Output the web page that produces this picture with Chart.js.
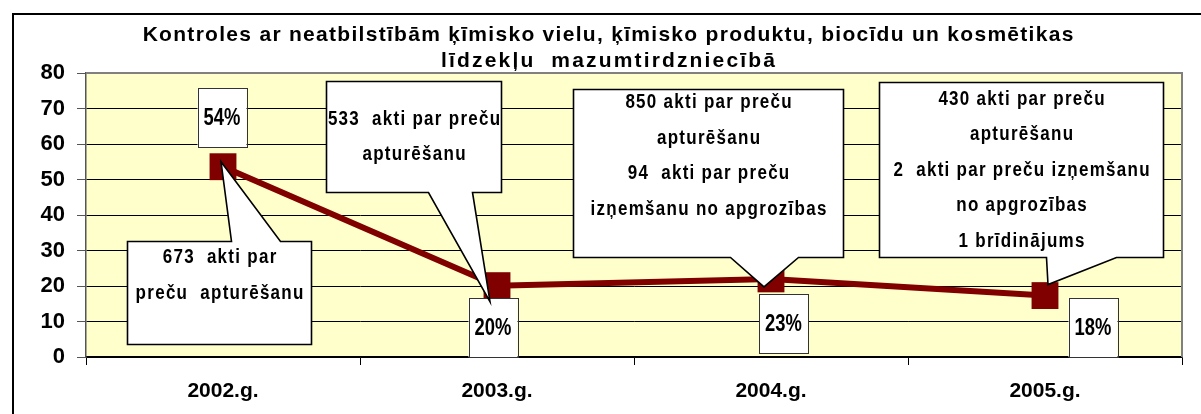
<!DOCTYPE html>
<html><head><meta charset="utf-8">
<script src="https://cdn.jsdelivr.net/npm/chart.js@4.4.1/dist/chart.umd.min.js"></script>
<style>html,body{margin:0;padding:0;background:#fff}#wrap{width:1201px;height:414px;position:relative}</style>
</head><body><div id="wrap"><canvas id="c" width="1201" height="414"></canvas></div>
<script>
// ---- data ----
const titleLines = ['Kontroles ar neatbilstībām ķīmisko vielu, ķīmisko produktu, biocīdu un kosmētikas', 'līdzekļu  mazumtirdzniecībā'];
const categories = ['2002.g.', '2003.g.', '2004.g.', '2005.g.'];
const values = [53.6, 20.1, 22.0, 17.3];
const percentLabels = ['54%', '20%', '23%', '18%'];
const yMin = 0, yMax = 80, yStep = 10;
const calloutTexts = [
  ['673  akti par', 'preču  apturēšanu', ''],
  ['533  akti par preču', 'apturēšanu'],
  ['850 akti par preču', 'apturēšanu', '94  akti par preču', 'izņemšanu no apgrozības', ''],
  ['430 akti par preču', 'apturēšanu', '2  akti par preču izņemšanu', 'no apgrozības', '1 brīdinājums']
];

// ---- layout / style (kept apart from data) ----
const FONT = "'Liberation Sans', Arial, sans-serif";
const calloutLayout = [
  {x: -96, y: 74, w: 184, h: 103, edge: 'top', b1: 104, b2: 153, tx: -2, ty: -5},
  {x: -171, y: -205, w: 175, h: 111, edge: 'bottom', b1: 102, b2: 146, tx: -7, ty: 16},
  {x: -198, y: -190, w: 270, h: 168, edge: 'bottom', b1: 157, b2: 225, tx: -7, ty: 8},
  {x: -166, y: -214, w: 284, h: 175, edge: 'bottom', b1: 167, b2: 237, tx: 3, ty: -11}
];
const pctLayout = [{dx: -1, dy: -49}, {dx: -4, dy: 42}, {dx: 12.5, dy: 44.6}, {dx: 48, dy: 32}];
const titleWidths = [932, 336];

function drawText(ctx, text, x, y, font, sx, spacing) {
  ctx.save();
  ctx.translate(x, y);
  ctx.scale(sx, 1);
  ctx.font = font;
  try { ctx.letterSpacing = spacing + 'px'; } catch (e) {}
  ctx.textAlign = 'center';
  ctx.fillText(text, spacing / 2, 0);
  ctx.restore();
}

const decor = {
  id: 'decor',
  beforeDraw(chart) {
    const ctx = chart.ctx, a = chart.chartArea;
    ctx.save();
    ctx.fillStyle = '#fff';
    ctx.fillRect(0, 0, chart.width, chart.height);
    ctx.fillStyle = '#FFFFCC';
    ctx.fillRect(a.left, a.top, a.right - a.left, a.bottom - a.top);
    // outer frame
    ctx.strokeStyle = '#000'; ctx.lineWidth = 2;
    ctx.beginPath();
    ctx.moveTo(13, chart.height + 2); ctx.lineTo(13, 14); ctx.lineTo(chart.width + 2, 14);
    ctx.stroke();
    // title, spread to the measured widths
    ctx.fillStyle = '#000';
    ctx.textBaseline = 'alphabetic';
    const tf = 'bold 21px ' + FONT;
    ctx.font = tf;
    try { ctx.letterSpacing = '0px'; } catch (e) {}
    titleLines.forEach((t, k) => {
      const w = ctx.measureText(t).width;
      const sp = Math.max(0, (titleWidths[k] - w) / t.length);
      drawText(ctx, t, 608, k === 0 ? 41 : 67, tf, 1, sp);
    });
    ctx.restore();
  },
  afterDraw(chart) {
    const ctx = chart.ctx, a = chart.chartArea;
    const meta = chart.getDatasetMeta(0);
    ctx.save();
    // plot border top/right
    ctx.strokeStyle = '#808080'; ctx.lineWidth = 2;
    ctx.beginPath();
    ctx.moveTo(a.left, a.top); ctx.lineTo(a.right, a.top); ctx.lineTo(a.right, a.bottom);
    ctx.stroke();
    // percentage boxes
    meta.data.forEach((pt, i) => {
      const L = pctLayout[i];
      const cx = pt.x + L.dx, cy = pt.y + L.dy, w = 49, h = 59;
      ctx.fillStyle = '#fff';
      ctx.fillRect(cx - w / 2, cy - h / 2, w, h);
      ctx.strokeStyle = '#333'; ctx.lineWidth = 1;
      ctx.strokeRect(Math.round(cx - w / 2) + 0.5, Math.round(cy - h / 2) + 0.5, w, h);
      ctx.fillStyle = '#000';
      ctx.textBaseline = 'middle';
      drawText(ctx, percentLabels[i], cx, cy + 1, 'bold 23px ' + FONT, 0.8, 0);
    });
    // callouts
    meta.data.forEach((pt, i) => {
      const L = calloutLayout[i];
      const x0 = Math.round(pt.x + L.x) + 0.5, y0 = Math.round(pt.y + L.y) + 0.5;
      const x1 = x0 + L.w, y1 = y0 + L.h;
      const tipX = pt.x + L.tx, tipY = pt.y + L.ty;
      ctx.beginPath();
      if (L.edge === 'top') {
        ctx.moveTo(x0, y0); ctx.lineTo(x0 + L.b1, y0); ctx.lineTo(tipX, tipY); ctx.lineTo(x0 + L.b2, y0);
        ctx.lineTo(x1, y0); ctx.lineTo(x1, y1); ctx.lineTo(x0, y1); ctx.closePath();
      } else {
        ctx.moveTo(x0, y0); ctx.lineTo(x1, y0); ctx.lineTo(x1, y1); ctx.lineTo(x0 + L.b2, y1);
        ctx.lineTo(tipX, tipY); ctx.lineTo(x0 + L.b1, y1); ctx.lineTo(x0, y1); ctx.closePath();
      }
      ctx.fillStyle = '#fff'; ctx.fill();
      ctx.strokeStyle = '#000'; ctx.lineWidth = 1.6; ctx.lineJoin = 'miter'; ctx.stroke();
      const lines = calloutTexts[i];
      const lh = 35.5;
      const cy = y0 + L.h / 2;
      ctx.fillStyle = '#000';
      ctx.textBaseline = 'middle';
      lines.forEach((t, k) => {
        drawText(ctx, t, x0 + L.w / 2, cy + (k - (lines.length - 1) / 2) * lh, 'bold 20px ' + FONT, 0.85, 1.5);
      });
    });
    ctx.restore();
  }
};

new Chart(document.getElementById('c'), {
  type: 'line',
  data: {
    labels: categories,
    datasets: [{
      data: values,
      borderColor: '#800000',
      backgroundColor: '#800000',
      borderWidth: 6,
      pointStyle: 'rect',
      pointRadius: 19,
      pointHoverRadius: 19,
      pointBackgroundColor: '#800000',
      pointBorderColor: '#800000',
      pointBorderWidth: 0,
      tension: 0,
      fill: false
    }]
  },
  options: {
    responsive: false,
    animation: false,
    events: [],
    layout: {padding: {top: 73, right: 6, left: 0, bottom: 0}},
    plugins: {legend: {display: false}, title: {display: false}, tooltip: {enabled: false}},
    scales: {
      x: {
        offset: true,
        grid: {offset: true, drawOnChartArea: false, drawTicks: true, tickLength: 8, color: '#000'},
        border: {color: '#000', width: 1.5},
        ticks: {color: '#000', font: {family: FONT, size: 21, weight: 'bold'}, padding: 14},
        afterFit(s) { s.height = 57; }
      },
      y: {
        min: yMin, max: yMax,
        ticks: {stepSize: yStep, color: '#000', font: {family: FONT, size: 22, weight: 'bold'}, padding: 12},
        grid: {color: '#000', lineWidth: 1, tickLength: 9, tickColor: '#555'},
        border: {color: '#555', width: 1.5},
        afterFit(s) { s.width = 86; }
      }
    }
  },
  plugins: [decor]
});
</script>
</body></html>
